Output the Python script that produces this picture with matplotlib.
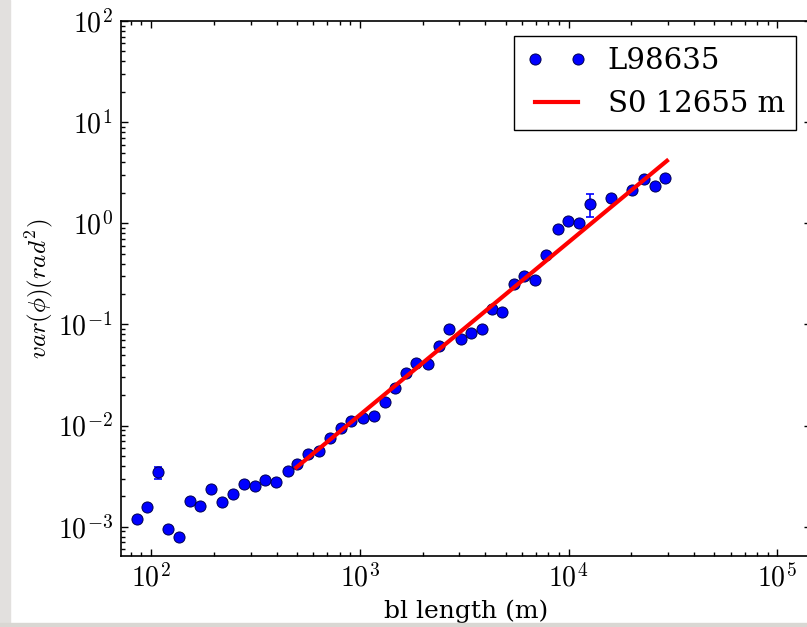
import numpy as np
import matplotlib
matplotlib.use('Agg')
import matplotlib.pyplot as plt
from matplotlib.ticker import FuncFormatter
from matplotlib.patches import Rectangle

plt.rcParams['font.family'] = ['DejaVu Serif']
plt.rcParams['mathtext.fontset'] = 'cm'

# baseline length (m) and phase variance (rad^2)
bl = [85.3, 95.3, 107.7, 121.1, 136.4, 153.5, 171.6, 193.8, 219.6, 246.2,
      278.1, 315.5, 352.5, 398.2, 451.3, 502.4, 566.3, 636.4, 721.1, 812.2,
      907.1, 1036, 1174, 1322, 1482, 1659, 1864, 2123, 2387, 2678,
      3045, 3391, 3831, 4313, 4813, 5459, 6147, 6915, 7768, 8872,
      9934, 11220, 12720, 16050, 20200, 22890, 25850, 29100]
var = [1.19e-3, 1.57e-3, 3.44e-3, 9.5e-4, 7.9e-4, 1.78e-3, 1.60e-3, 2.36e-3, 1.74e-3, 2.12e-3,
       2.62e-3, 2.54e-3, 2.89e-3, 2.80e-3, 3.55e-3, 4.17e-3, 5.20e-3, 5.57e-3, 7.62e-3, 9.57e-3,
       1.115e-2, 1.20e-2, 1.25e-2, 1.73e-2, 2.35e-2, 3.35e-2, 4.20e-2, 4.03e-2, 6.15e-2, 8.99e-2,
       7.16e-2, 8.20e-2, 8.99e-2, 0.1416, 0.134, 0.252, 0.300, 0.278, 0.487, 0.875,
       1.06, 1.00, 1.56, 1.78, 2.14, 2.73, 2.34, 2.79]
err = [5e-5, 6e-5, 4.7e-4, 4e-5, 3e-5, 7e-5, 6e-5, 9e-5, 7e-5, 8e-5,
       1e-4, 1e-4, 1.1e-4, 1.1e-4, 1.4e-4, 1.6e-4, 2e-4, 2.2e-4, 3e-4, 3.8e-4,
       4.5e-4, 4.8e-4, 5e-4, 7e-4, 9e-4, 1.3e-3, 1.7e-3, 1.6e-3, 2.5e-3, 3.6e-3,
       2.9e-3, 3.3e-3, 3.6e-3, 5.7e-3, 5.4e-3, 0.010, 0.012, 0.011, 0.019, 0.035,
       0.042, 0.04, 0.40, 0.07, 0.085, 0.11, 0.09, 0.11]

# fitted structure function line (end points)
fit_bl = [497, 29600]
fit_var = [3.86e-3, 4.15]

fig = plt.figure(figsize=(8.07, 6.27), dpi=100, facecolor='white')
ax = fig.add_axes([121/807, 1 - 556/627, (811 - 121)/807, (556 - 21)/627])

ax.errorbar(bl, var, yerr=err, fmt='none', ecolor='blue', elinewidth=1.2, capsize=3, capthick=1.2)
ax.plot(bl, var, 'o', color='blue', mec='#000050', mew=0.7, ms=8, label='L98635')
ax.plot(fit_bl, fit_var, '-', color='red', lw=3, label='S0 12655 m')

ax.set_xscale('log')
ax.set_yscale('log')
ax.set_xlim(71.8, 1.45e5)
ax.set_ylim(5.14e-4, 100)

fmt = FuncFormatter(lambda v, p: r'$10^{%d}$' % int(round(np.log10(v))))
ax.xaxis.set_major_formatter(fmt)
ax.yaxis.set_major_formatter(fmt)
ax.tick_params(which='both', direction='in', top=True, right=True, width=1)
ax.tick_params(which='major', length=5, labelsize=20, pad=6)
ax.tick_params(which='minor', length=3)
for s in ax.spines.values():
    s.set_linewidth(1.2)

ax.set_xlabel('bl length (m)', fontsize=18, labelpad=5)
ax.set_ylabel(r'$var(\phi)(rad^2)$', fontsize=18, labelpad=2)

leg = ax.legend(loc='upper right', numpoints=2, fontsize=21, fancybox=False,
                framealpha=1, edgecolor='black', borderaxespad=0.5,
                handlelength=2.1, handletextpad=0.7)
leg.get_frame().set_linewidth(1.0)

# screenshot background strips
fig.patches.append(Rectangle((0, 0), 10/807, 1, transform=fig.transFigure,
                             color='#e2e0de', zorder=10))
fig.patches.append(Rectangle((0, 0), 1, 4/627, transform=fig.transFigure,
                             color='#d9d7d3', zorder=10))

fig.savefig('out.png', dpi=100)
